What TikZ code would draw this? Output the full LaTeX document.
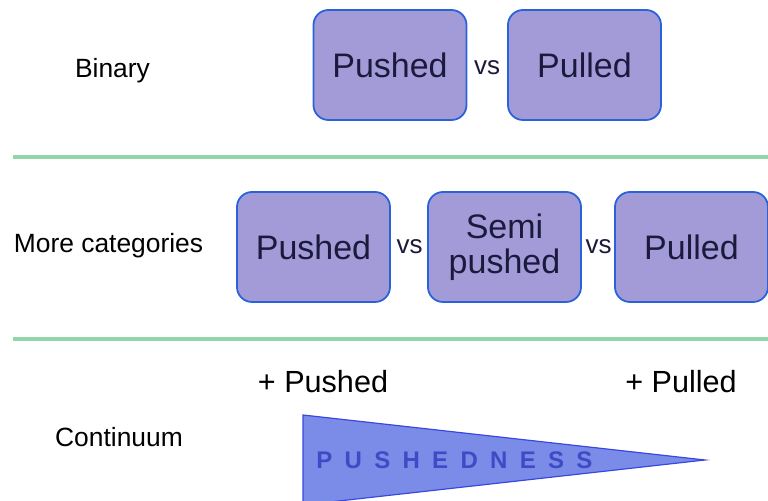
\documentclass[tikz,border=0pt]{standalone}
\usepackage{fontspec}
\setmainfont{Liberation Sans}

\definecolor{boxfill}{HTML}{A39BD8}
\definecolor{boxline}{HTML}{2A62DA}
\definecolor{boxtext}{HTML}{1C1A3C}
\definecolor{sepgreen}{HTML}{93D5AB}
\definecolor{wedgefill}{HTML}{7A8CE8}
\definecolor{wedgeline}{HTML}{3A48E0}
\definecolor{wedgetext}{HTML}{3F4AC6}

\begin{document}
\begin{tikzpicture}
    [
        x=0.5pt, y=-0.5pt,
        category/.style={rectangle, rounded corners=7.5pt, draw=boxline, line width=0.9pt,
            fill=boxfill, text=boxtext, minimum width=76.5pt, minimum height=55pt,
            inner sep=0pt, align=center, font=\fontsize{17}{17.5}\selectfont},
        versus/.style={text=boxtext, inner sep=0pt, font=\fontsize{13}{13}\selectfont},
        rowlabel/.style={inner sep=0pt, font=\fontsize{13.2}{14}\selectfont},
        endlabel/.style={inner sep=0pt, font=\fontsize{15.3}{16}\selectfont},
        separator/.style={draw=sepgreen, line width=2pt},
        wedge/.style={fill=wedgefill, draw=wedgeline, line width=0.6pt},
    ]
    \useasboundingbox (0,0) rectangle (768,501);

    \node (binary) at (112.5,71) [rowlabel] {Binary};
    \node (bpush) at (390,65) [category] {Pushed};
    \node (bvs) at (487,68) [versus] {vs};
    \node (bpull) at (584.5,65) [category] {Pulled};

    \draw [separator] (13,157) -- (768,157);

    \node (more) at (108.5,246) [rowlabel] {More categories};
    \node (mpush) at (313.5,247) [category] {Pushed};
    \node (mvs1) at (409.5,247) [versus] {vs};
    \node (msemi) at (504.5,247) [category] {Semi\\pushed};
    \node (mvs2) at (598.5,247) [versus] {vs};
    \node (mpull) at (691.5,247) [category] {Pulled};

    \draw [separator] (13,339) -- (768,339);

    \node (cont) at (119,437) [rowlabel] {Continuum};
    \node (mostpush) at (323,382) [endlabel] {+ Pushed};
    \node (mostpull) at (681,382) [endlabel] {+ Pulled};
    \draw [wedge] (303,415) -- (705,460) -- (303,505) -- cycle;
    \node (pushedness) at (316,460) [anchor=west, inner sep=0pt, text=wedgetext,
        font=\fontsize{12}{12}\selectfont\bfseries]
        {\makebox[138pt][s]{P\hfill U\hfill S\hfill H\hfill E\hfill D\hfill N\hfill E\hfill S\hfill S}};
\end{tikzpicture}
\end{document}
